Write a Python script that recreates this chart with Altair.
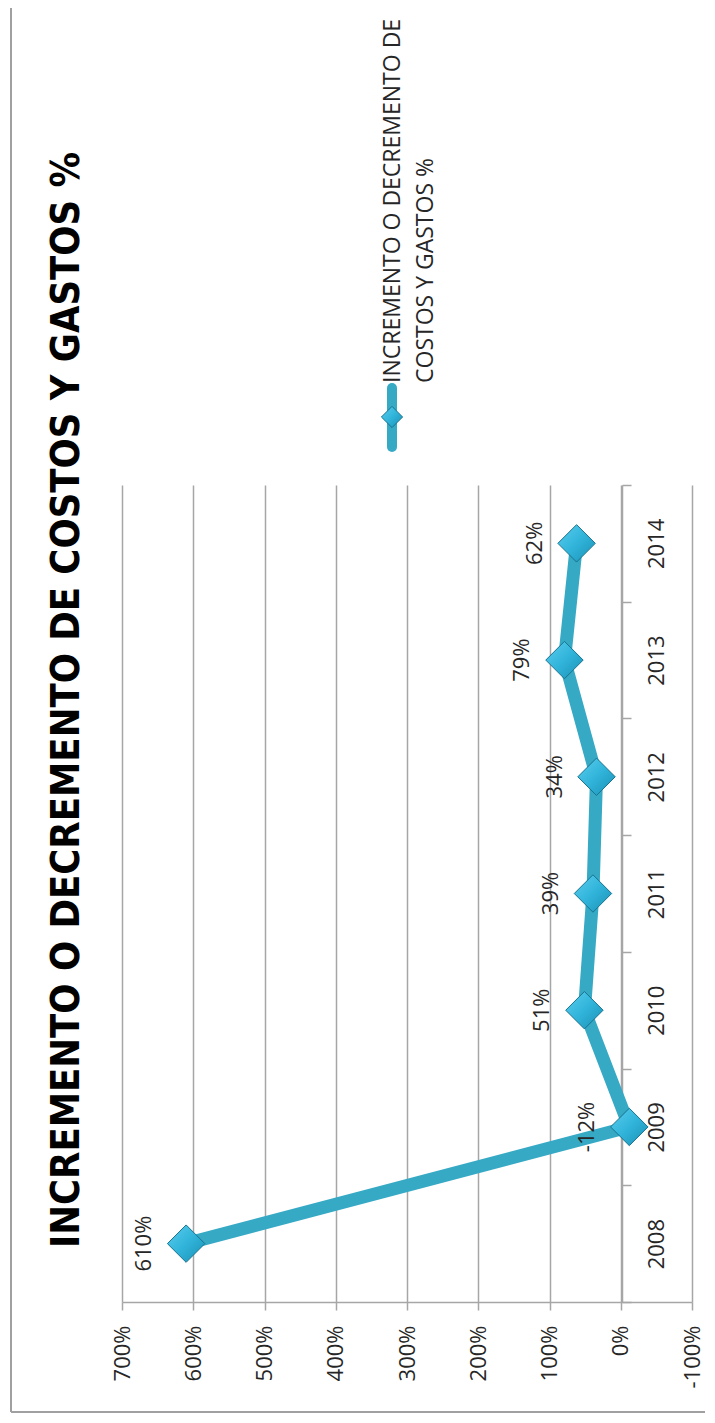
import altair as alt
import pandas as pd

years = ["2008", "2009", "2010", "2011", "2012", "2013", "2014"]
values = [610, -12, 51, 39, 34, 79, 62]
value_ticks = [700, 600, 500, 400, 300, 200, 100, 0, -100]
title_text = "INCREMENTO O DECREMENTO DE COSTOS Y GASTOS %"
legend_lines = ["INCREMENTO O DECREMENTO DE", "COSTOS Y GASTOS %"]

LINE = "#36A9C5"
DIAMOND_EDGE = "#17738E"
GRID = "#A6A6A6"
TEXT = "#262626"
DIAMOND_FILL = alt.LinearGradient(
    gradient="linear", x1=0, y1=0, x2=1, y2=1,
    stops=[alt.GradientStop(offset=0, color="#5ACDEE"),
           alt.GradientStop(offset=0.5, color="#31B4DA"),
           alt.GradientStop(offset=1, color="#1A8FB4")],
)

df = pd.DataFrame({"year": years, "v": values})
one = pd.DataFrame({"name": [title_text]})

W, H = 570, 817

x_enc = alt.X(
    "v:Q",
    scale=alt.Scale(domain=[-100, 700], reverse=True, nice=False, zero=False),
    axis=alt.Axis(
        values=value_ticks, labelExpr="datum.value + '%'", labelAngle=270,
        labelAlign="right", labelBaseline="middle", labelFlush=False,
        labelFont="Open Sans", labelFontSize=22, labelColor=TEXT, labelPadding=15,
        tickSize=8, tickColor=GRID, tickWidth=1.5, domainColor=GRID, domainWidth=1.5,
        grid=True, gridColor=GRID, gridWidth=1.5, title=None,
    ),
)
y_enc = alt.Y(
    "year:O", sort="descending",
    scale=alt.Scale(type="band", paddingInner=0, paddingOuter=0),
    axis=alt.Axis(
        orient="right", offset=-70, tickBand="extent", labelAngle=270,
        labelAlign="center", labelBaseline="top", labelPadding=15,
        labelFont="Open Sans", labelFontSize=22, labelColor=TEXT,
        tickSize=9, tickColor=GRID, tickWidth=1.5, domainColor=GRID, domainWidth=1.5,
        grid=False, title=None,
    ),
)

base = alt.Chart(df)
line = base.mark_line(color=LINE, strokeWidth=13).encode(x=x_enc, y=y_enc)
pts = base.mark_point(shape="diamond", filled=True, size=1400, fill=DIAMOND_FILL,
                      stroke=DIAMOND_EDGE, strokeWidth=1, opacity=1).encode(
    x="v:Q", y=alt.Y("year:O", sort="descending"))
labels = base.transform_calculate(lbl="datum.v + '%'").mark_text(
    angle=270, dy=-42, align="center", baseline="middle",
    font="Open Sans", fontSize=22, color=TEXT,
).encode(x="v:Q", y=alt.Y("year:O", sort="descending"), text="lbl:N")

title = alt.Chart(one).mark_text(
    angle=270, align="center", baseline="alphabetic",
    font="Liberation Sans Narrow, DejaVu Sans Condensed, sans-serif",
    fontWeight="bold", fontSize=39.5, color="#000000",
).encode(text="name:N", x=alt.value(-43), y=alt.value(215))

leg_text = alt.Chart(one).mark_text(
    text=legend_lines, angle=270, align="left", baseline="alphabetic", lineHeight=33,
    font="Open Sans", fontSize=23, color=TEXT,
).encode(x=alt.value(278), y=alt.value(-102))
leg_line = alt.Chart(one).mark_rule(color=LINE, strokeWidth=10, strokeCap="round").encode(
    x=alt.value(270), y=alt.value(-97), y2=alt.value(-38))
leg_pt = alt.Chart(one).mark_point(shape="diamond", filled=True, size=450, fill=DIAMOND_FILL,
                                   stroke=DIAMOND_EDGE, strokeWidth=1, opacity=1).encode(
    x=alt.value(270), y=alt.value(-68))

border_left = alt.Chart(one).mark_rule(color="#A0A0A0", strokeWidth=2).encode(
    x=alt.value(-111), y=alt.value(-477), y2=alt.value(927))
border_bottom = alt.Chart(one).mark_rule(color="#A0A0A0", strokeWidth=2).encode(
    x=alt.value(-111), x2=alt.value(583), y=alt.value(927))

chart = alt.layer(
    border_left, border_bottom, line, pts, labels, title, leg_line, leg_pt, leg_text
).properties(
    width=W, height=H,
    autosize=alt.AutoSizeParams(type="none"),
    padding={"left": 114, "top": 477, "right": 13, "bottom": 113},
).configure_view(stroke=None)

chart.save("out.html", embed_options={"renderer": "svg", "actions": False})
